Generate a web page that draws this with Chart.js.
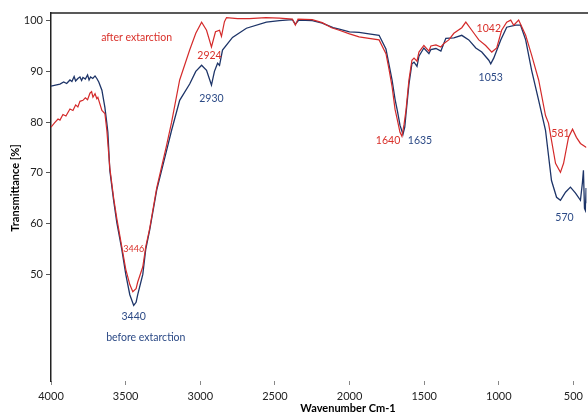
<!DOCTYPE html>
<html>
<head>
<meta charset="utf-8">
<title>FTIR spectrum</title>
<script src="https://cdn.jsdelivr.net/npm/chart.js@4.4.1/dist/chart.umd.min.js"></script>
<style>
    body { margin: 0; background: #fff; }
    #wrap { width: 588px; height: 414px; position: relative; }
</style>
</head>
<body>
<div id="wrap"><canvas id="irChart"></canvas></div>
<script>
// before extraction (blue)
const beforeWn = [4000, 3970, 3940, 3915, 3895, 3873, 3860, 3845, 3835, 3820, 3806, 3795, 3786, 3770, 3755, 3745, 3735, 3720, 3705, 3693,
    3680, 3659, 3639, 3626, 3619, 3606, 3580, 3559, 3526, 3499, 3472, 3446, 3430, 3419, 3385, 3365, 3339, 3292, 3225, 3192,
    3138, 3071, 3030, 2991, 2958, 2925, 2905, 2884, 2871, 2851, 2784, 2691, 2557, 2470, 2383, 2363, 2340, 2250, 2183, 2110,
    2069, 2000, 1936, 1870, 1802, 1756, 1715, 1695, 1680, 1662, 1642, 1630, 1622, 1602, 1582, 1568, 1548, 1535, 1502, 1468,
    1455, 1421, 1388, 1355, 1301, 1248, 1201, 1154, 1114, 1067, 1054, 1034, 987, 947, 887, 854, 820, 780, 733, 687,
    647, 613, 587, 553, 520, 486, 453, 440, 433, 426, 420, 415, 413];
const beforeT = [87.1, 87.3, 87.5, 87.9, 87.6, 88.3, 88.0, 89.0, 88.1, 88.6, 88.9, 88.2, 88.8, 88.5, 89.3, 88.3, 88.9, 88.6, 89.1, 88.6,
    87.9, 86.3, 82.9, 79.8, 78.0, 70.5, 64.5, 60.2, 55.0, 50.0, 46.0, 43.9, 44.5, 46.0, 50.0, 55.0, 58.7, 66.6, 74.5, 78.4,
    84.3, 87.5, 90.0, 91.2, 90.2, 87.3, 90.0, 91.6, 91.2, 94.2, 96.7, 98.5, 99.7, 100.0, 100.2, 99.3, 100.1, 100.0, 99.5, 98.6,
    98.3, 97.8, 97.7, 97.4, 97.1, 94.4, 88.3, 84.5, 82.3, 79.4, 77.6, 79.0, 81.5, 87.5, 91.5, 91.8, 91.0, 93.0, 94.6, 93.5,
    94.3, 94.5, 94.0, 96.5, 96.6, 97.1, 96.2, 94.6, 93.8, 92.2, 91.5, 92.6, 96.2, 98.7, 99.1, 99.1, 96.2, 90.2, 84.3, 78.4,
    68.5, 65.2, 64.6, 66.2, 67.2, 66.0, 64.6, 68.0, 70.5, 63.0, 62.6, 67.0, 64.0];

// after extraction (red)
const afterWn = [4000, 3975, 3953, 3940, 3920, 3900, 3873, 3853, 3835, 3820, 3806, 3786, 3770, 3755, 3739, 3728, 3719, 3705, 3693, 3686,
    3659, 3639, 3626, 3606, 3580, 3559, 3526, 3499, 3472, 3452, 3430, 3419, 3385, 3365, 3339, 3292, 3225, 3192, 3138, 3071,
    3030, 2991, 2958, 2925, 2898, 2871, 2858, 2838, 2824, 2750, 2671, 2560, 2470, 2383, 2363, 2345, 2250, 2183, 2120, 2069,
    2000, 1936, 1870, 1802, 1756, 1736, 1715, 1695, 1680, 1662, 1649, 1635, 1622, 1602, 1582, 1568, 1548, 1535, 1502, 1468,
    1455, 1421, 1388, 1368, 1335, 1301, 1248, 1221, 1181, 1134, 1088, 1047, 1014, 981, 947, 920, 900, 867, 820, 780,
    733, 687, 667, 620, 587, 566, 533, 506, 480, 453, 413];
const afterT = [79.0, 79.9, 80.6, 80.4, 81.5, 81.2, 82.6, 82.3, 83.4, 83.0, 84.1, 84.3, 84.8, 84.4, 85.7, 86.0, 84.9, 85.6, 84.6, 84.9,
    82.3, 81.7, 78.4, 71.0, 65.0, 61.0, 55.5, 51.0, 48.0, 46.6, 47.2, 48.5, 51.5, 55.5, 59.0, 67.0, 75.5, 80.0, 88.3, 94.2,
    97.5, 99.7, 98.1, 94.8, 97.8, 98.1, 96.9, 99.8, 100.6, 100.4, 100.4, 100.6, 100.5, 100.3, 99.1, 100.3, 100.2, 99.6, 98.6, 98.1,
    97.4, 96.8, 96.5, 96.2, 93.5, 90.5, 87.0, 82.5, 80.5, 78.0, 77.2, 79.5, 82.3, 88.3, 92.2, 92.6, 92.0, 93.8, 95.1, 94.0,
    95.0, 95.2, 94.8, 95.5, 96.2, 97.5, 98.6, 99.7, 98.1, 96.2, 95.1, 93.8, 94.6, 98.1, 99.7, 100.1, 99.1, 100.1, 97.1, 93.2,
    88.3, 81.3, 79.8, 71.9, 70.1, 71.9, 77.0, 78.6, 77.0, 75.8, 75.0];

// tick labels
const xTicks = [4000, 3500, 3000, 2500, 2000, 1500, 1000, 500];
const yTicks = [50, 60, 70, 80, 90, 100];

// peak labels: text, wavenumber, transmittance, colour
const peakText = ['after extarction', '2924', '2930', '3446', '3440', 'before extarction', '1640', '1635', '1042', '1053', '581', '570'];
const peakWn = [3426, 2938, 2925, 3446, 3446, 3365, 1742, 1528, 1067, 1054, 587, 560];
const peakT = [96.7, 93.2, 84.7, 54.9, 41.7, 37.6, 76.4, 76.4, 98.5, 88.7, 77.8, 61.2];

const RED = '#d42a2a';
const BLUE = '#1d3468';
const RED_TXT = '#d9302a';
const BLUE_TXT = '#2c4a86';
const peakColor = [RED_TXT, RED_TXT, BLUE_TXT, RED_TXT, BLUE_TXT, BLUE_TXT, RED_TXT, BLUE_TXT, RED_TXT, BLUE_TXT, RED_TXT, BLUE_TXT];

function toPoints(xs, ys) {
    return xs.map((x, i) => ({ x: x, y: ys[i] }));
}

// top frame line, axis titles and peak labels
const decorPlugin = {
    id: 'decor',
    afterDraw(chart) {
        const ctx = chart.ctx;
        const area = chart.chartArea;
        const xs = chart.scales.x;
        const ys = chart.scales.y;
        ctx.save();

        ctx.strokeStyle = '#222';
        ctx.lineWidth = 1.5;
        ctx.beginPath();
        ctx.moveTo(area.left, area.top);
        ctx.lineTo(chart.width, area.top);
        ctx.stroke();

        ctx.textAlign = 'center';
        ctx.textBaseline = 'middle';
        peakText.forEach((t, i) => {
            ctx.font = (i === 3 ? '9px' : '10.5px') + ' Lato, "Open Sans", sans-serif';
            ctx.fillStyle = peakColor[i];
            ctx.fillText(t, xs.getPixelForValue(peakWn[i]), ys.getPixelForValue(peakT[i]));
        });

        ctx.fillStyle = '#000';
        ctx.font = 'bold 11px Lato, "Open Sans", sans-serif';
        ctx.fillText('Wavenumber Cm-1', 348, 408);
        ctx.translate(15, 188);
        ctx.rotate(-Math.PI / 2);
        ctx.fillText('Transmittance [%]', 0, 0);
        ctx.restore();
    }
};

document.addEventListener('DOMContentLoaded', function() {
    const ctx = document.getElementById('irChart').getContext('2d');
    new Chart(ctx, {
        type: 'scatter',
        data: {
            datasets: [
                {
                    label: 'before extraction',
                    data: toPoints(beforeWn, beforeT),
                    borderColor: BLUE,
                    borderWidth: 1.3,
                    showLine: true,
                    pointRadius: 0,
                    order: 2
                },
                {
                    label: 'after extraction',
                    data: toPoints(afterWn, afterT),
                    borderColor: RED,
                    borderWidth: 1.2,
                    showLine: true,
                    pointRadius: 0,
                    order: 1
                }
            ]
        },
        options: {
            responsive: true,
            maintainAspectRatio: false,
            animation: false,
            layout: { padding: { top: 13, right: 0, bottom: 0, left: 0 } },
            plugins: {
                legend: { display: false },
                tooltip: { enabled: false }
            },
            scales: {
                x: {
                    type: 'linear',
                    reverse: true,
                    min: 413,
                    max: 4000,
                    afterBuildTicks: s => { s.ticks = xTicks.map(v => ({ value: v })); },
                    afterFit: s => { s.height = 33; },
                    border: { display: false },
                    grid: { drawOnChartArea: false, tickLength: 4, color: '#888' },
                    ticks: {
                        padding: 5,
                        color: '#222',
                        font: { family: 'Lato, "Open Sans", sans-serif', size: 11 },
                        maxRotation: 0,
                        callback: v => String(v)
                    }
                },
                y: {
                    min: 29,
                    max: 101.5,
                    afterBuildTicks: s => { s.ticks = yTicks.map(v => ({ value: v })); },
                    afterFit: s => { s.width = 51; },
                    border: { display: true, color: '#222', width: 1.5 },
                    grid: { drawOnChartArea: false, tickLength: 5, color: '#555' },
                    ticks: {
                        padding: 3,
                        color: '#222',
                        font: { family: 'Lato, "Open Sans", sans-serif', size: 11 },
                        callback: v => String(v)
                    }
                }
            }
        },
        plugins: [decorPlugin]
    });
});
</script>
</body>
</html>
